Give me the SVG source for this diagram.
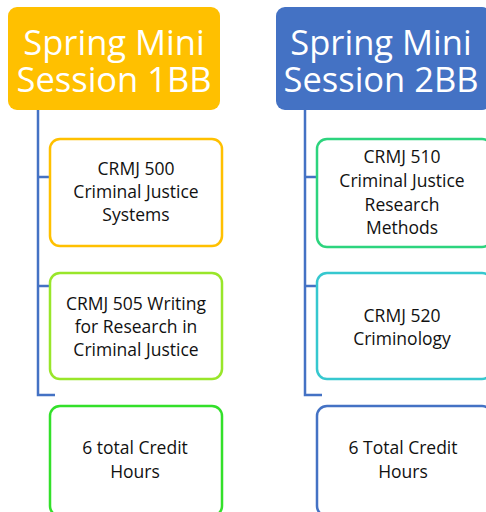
<svg xmlns="http://www.w3.org/2000/svg" width="486" height="512" viewBox="0 0 486 512">
<style>
.hdr{font-family:"Open Sans","Liberation Sans",Arial,sans-serif;font-size:34.5px;fill:#fff;text-anchor:middle}
.t{font-family:"Open Sans","Liberation Sans",Arial,sans-serif;font-size:17.5px;fill:#111;text-anchor:middle}
.box{fill:#fff;stroke-width:2.5}
.ln{stroke:#4472C4;stroke-width:2.5;fill:none}
</style>
<rect width="486" height="512" fill="#fff"/>
<g id="connectors">
<path class="ln" d="M38,110 V395 H55"/>
<path class="ln" d="M38,177 H50 M38,286 H50"/>
<path class="ln" d="M305,110 V395 H322"/>
<path class="ln" d="M305,177 H317 M305,286 H317"/>
</g>
<g id="header1">
<rect x="8" y="7" width="212" height="103" rx="9" fill="#FFC000"/>
<text class="hdr" x="114" y="55">Spring Mini</text>
<text class="hdr" x="114" y="92">Session 1BB</text>
</g>
<g id="header2">
<rect x="276" y="7" width="215" height="103" rx="9" fill="#4472C4"/>
<text class="hdr" x="381" y="55">Spring Mini</text>
<text class="hdr" x="381" y="92">Session 2BB</text>
</g>
<g id="crmj500">
<rect class="box" x="50" y="139" width="172" height="107" rx="10" stroke="#FFC000"/>
<text class="t" x="136" y="175">CRMJ 500</text>
<text class="t" x="136" y="198">Criminal Justice</text>
<text class="t" x="136" y="221">Systems</text>
</g>
<g id="crmj505">
<rect class="box" x="50" y="273" width="172" height="106" rx="10" stroke="#99E62A"/>
<text class="t" x="136" y="310">CRMJ 505 Writing</text>
<text class="t" x="136" y="333">for Research in</text>
<text class="t" x="136" y="356">Criminal Justice</text>
</g>
<g id="credits1">
<rect class="box" x="50" y="406" width="172" height="110" rx="10" stroke="#33E02A"/>
<text class="t" x="135" y="454">6 total Credit</text>
<text class="t" x="135" y="478">Hours</text>
</g>
<g id="crmj510">
<rect class="box" x="317" y="139" width="175" height="108" rx="10" stroke="#2DD47E"/>
<text class="t" x="402" y="163">CRMJ 510</text>
<text class="t" x="402" y="187">Criminal Justice</text>
<text class="t" x="402" y="211">Research</text>
<text class="t" x="402" y="234">Methods</text>
</g>
<g id="crmj520">
<rect class="box" x="317" y="273" width="175" height="106" rx="10" stroke="#36C8CF"/>
<text class="t" x="402" y="322">CRMJ 520</text>
<text class="t" x="402" y="345">Criminology</text>
</g>
<g id="credits2">
<rect class="box" x="317" y="406" width="175" height="110" rx="10" stroke="#4472C4"/>
<text class="t" x="403" y="454">6 Total Credit</text>
<text class="t" x="403" y="478">Hours</text>
</g>
</svg>
